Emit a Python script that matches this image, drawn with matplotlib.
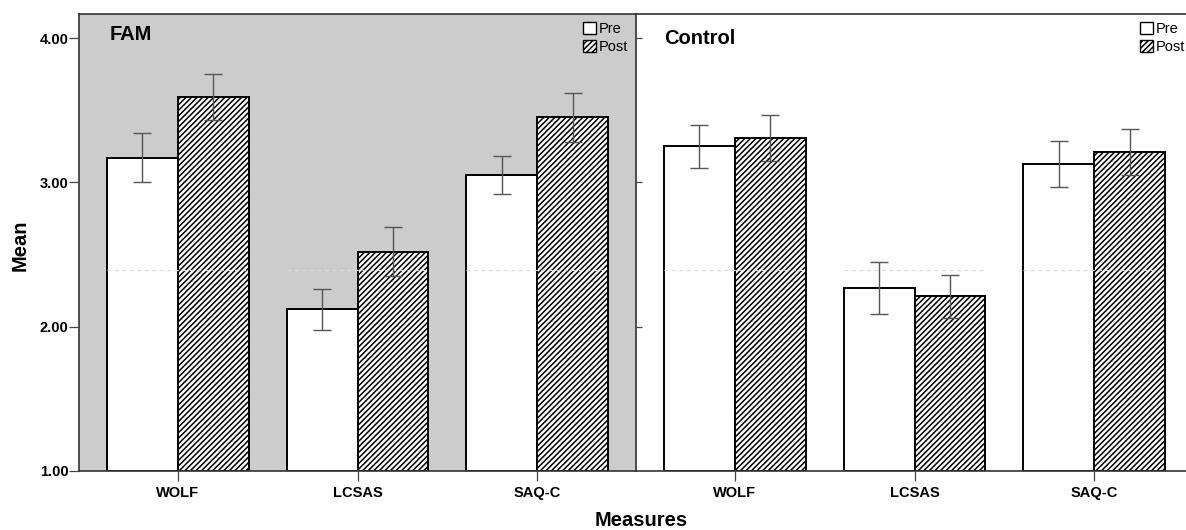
import numpy as np
import matplotlib
matplotlib.use('Agg')
from matplotlib import pyplot as plt

plt.rcParams['font.family'] = ['Liberation Sans', 'DejaVu Sans']
plt.rcParams['hatch.linewidth'] = 1.1
plt.rcParams['hatch.color'] = 'black'

measures = ['WOLF', 'LCSAS', 'SAQ-C']
panels = ['FAM', 'Control']

fam_pre = [3.17, 2.12, 3.05]
fam_pre_err = [0.17, 0.14, 0.13]
fam_post = [3.59, 2.52, 3.45]
fam_post_err = [0.16, 0.17, 0.17]

control_pre = [3.25, 2.27, 3.13]
control_pre_err = [0.15, 0.18, 0.16]
control_post = [3.31, 2.21, 3.21]
control_post_err = [0.16, 0.15, 0.16]

yticks = [1.0, 2.0, 3.0, 4.0]
ref_line = 2.39  # faint dashed line visible inside the bars

W, H = 1186, 530
fig = plt.figure(figsize=(W / 100, H / 100), dpi=100)

ax_l = fig.add_axes([79 / W, 59 / H, 557 / W, 457 / H])
ax_r = fig.add_axes([636 / W, 59 / H, 557 / W, 457 / H])

data = [
    (ax_l, fam_pre, fam_pre_err, fam_post, fam_post_err, '#cccccc'),
    (ax_r, control_pre, control_pre_err, control_post, control_post_err, 'white'),
]

x = np.arange(len(measures))
bw = 0.395
err_kw = dict(ecolor='#555555', elinewidth=1.0, capsize=6.5, capthick=1.0)

for ax, pre, pre_err, post, post_err, bg in data:
    ax.set_facecolor(bg)
    ax.bar(x - bw / 2, np.array(pre) - 1, bw, bottom=1, color='white',
           edgecolor='black', linewidth=1.4, label='Pre', zorder=2)
    ax.bar(x + bw / 2, np.array(post) - 1, bw, bottom=1, color='white',
           edgecolor='black', linewidth=1.4, hatch='//////', label='Post', zorder=2)
    ax.errorbar(x - bw / 2, pre, yerr=pre_err, fmt='none', zorder=4, **err_kw)
    ax.errorbar(x + bw / 2, post, yerr=post_err, fmt='none', zorder=4, **err_kw)
    ax.hlines([ref_line] * len(x), x - bw, x + bw, colors='#dcdcdc',
              linestyles=(0, (3, 3)), linewidth=0.9, zorder=3)

    ax.set_xlim(-0.55, 2.55)
    ax.set_ylim(1.0, 4.167)
    ax.set_xticks(x)
    ax.set_xticklabels(measures, fontweight='bold', fontsize=10.5)
    ax.tick_params(axis='x', direction='out', length=7, width=0.9,
                   color='#444444', pad=3.5)
    for s in ax.spines.values():
        s.set_color('#333333')
        s.set_linewidth(1.2)
    ax.spines['right'].set_visible(False)

    leg = ax.legend(loc='upper right', bbox_to_anchor=(1.0, 1.0), frameon=False,
                    fontsize=10.5, handlelength=0.9, handleheight=0.9,
                    handletextpad=0.2, labelspacing=0.25, borderaxespad=0.3,
                    borderpad=0.25)
    for p in leg.get_patches():
        p.set_linewidth(1.0)

ax_l.set_yticks(yticks)
ax_l.set_yticklabels(['%.2f' % v for v in yticks], fontweight='bold', fontsize=10.5)
ax_l.tick_params(axis='y', direction='out', length=7, width=0.9, color='#444444', pad=0.5)

ax_r.set_yticks(yticks[1:])
ax_r.tick_params(axis='y', direction='in', length=4.5, width=0.9, color='#444444',
                 labelleft=False)

ax_l.text(0.055, 0.976, panels[0], transform=ax_l.transAxes, fontsize=14.5,
          fontweight='bold', va='top', ha='left')
ax_r.text(0.05, 0.967, panels[1], transform=ax_r.transAxes, fontsize=14.5,
          fontweight='bold', va='top', ha='left')

fig.text(20 / W, (H - 245) / H, 'Mean', rotation=90, fontsize=14.5,
         fontweight='bold', ha='center', va='center')
fig.text(641 / W, (H - 520) / H, 'Measures', fontsize=14.5,
         fontweight='bold', ha='center', va='center')

fig.savefig('out.png', dpi=100)
